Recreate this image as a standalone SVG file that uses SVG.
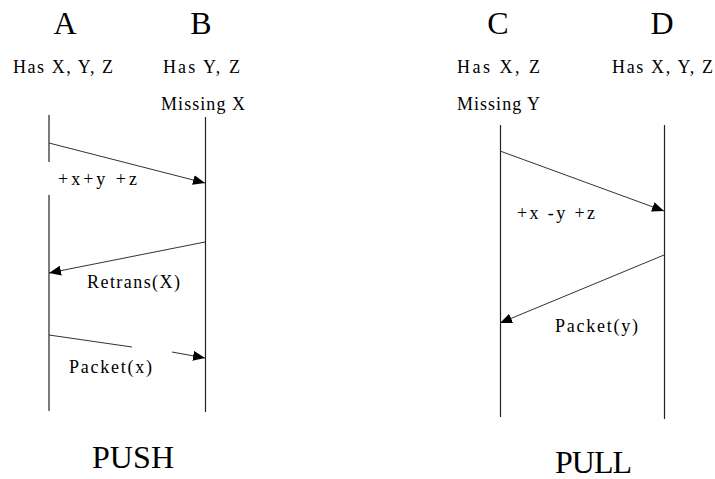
<svg xmlns="http://www.w3.org/2000/svg" width="715" height="479" viewBox="0 0 715 479">
<style>
text{font-family:"Liberation Serif","Times New Roman",serif;fill:#000}
.big{font-size:32px}
.lbl{font-size:18px}
.msg{font-size:18px}
.life{stroke:#222;stroke-width:1.2;fill:none}
.arr{stroke:#333;stroke-width:1;fill:none}
</style>
<defs>
<marker id="ah" viewBox="0 0 12 10" refX="12" refY="5" markerWidth="12" markerHeight="10" markerUnits="userSpaceOnUse" orient="auto">
<path d="M0,0 L12,5 L0,10 Z" fill="#000"/>
</marker>
</defs>
<rect width="715" height="479" fill="#fff"/>

<g id="node-A">
<text class="big" x="65" y="34" text-anchor="middle">A</text>
<text class="lbl" x="13" y="73" textLength="100">Has X, Y, Z</text>
<line class="life" x1="49" y1="115" x2="49" y2="162"/>
<line class="life" x1="49" y1="195" x2="49" y2="411"/>
</g>
<g id="node-B">
<text class="big" x="201" y="34" text-anchor="middle">B</text>
<text class="lbl" x="163" y="73" textLength="77">Has Y, Z</text>
<text class="lbl" x="161" y="110" textLength="84">Missing X</text>
<line class="life" x1="205.5" y1="117" x2="205.5" y2="412"/>
</g>
<g id="node-C">
<text class="big" x="498" y="34" text-anchor="middle">C</text>
<text class="lbl" x="457" y="73" textLength="83">Has X,  Z</text>
<text class="lbl" x="457" y="110" textLength="83">Missing Y</text>
<line class="life" x1="500.5" y1="125" x2="500.5" y2="417"/>
</g>
<g id="node-D">
<text class="big" x="662" y="34" text-anchor="middle">D</text>
<text class="lbl" x="612" y="73" textLength="101">Has X, Y, Z</text>
<line class="life" x1="664.5" y1="125" x2="664.5" y2="419"/>
</g>

<g id="connectors">
<line class="arr" x1="49" y1="143" x2="205" y2="183" marker-end="url(#ah)"/>
<line class="arr" x1="205" y1="242" x2="49" y2="273" marker-end="url(#ah)"/>
<line class="arr" x1="49" y1="335" x2="132" y2="347"/>
<line class="arr" x1="172" y1="352" x2="205" y2="358" marker-end="url(#ah)"/>
<line class="arr" x1="500" y1="151" x2="664" y2="211" marker-end="url(#ah)"/>
<line class="arr" x1="664" y1="255" x2="500" y2="323" marker-end="url(#ah)"/>
</g>

<g id="labels">
<text class="msg" x="58" y="185" textLength="79">+x+y +z</text>
<text class="msg" x="87" y="288" textLength="93">Retrans(X)</text>
<text class="msg" x="69" y="373" textLength="83">Packet(x)</text>
<text class="msg" x="517" y="219" textLength="78">+x -y +z</text>
<text class="msg" x="555" y="332" textLength="83">Packet(y)</text>
<text class="big" x="92" y="468" textLength="82">PUSH</text>
<text class="big" x="555" y="473" textLength="77">PULL</text>
</g>
</svg>
